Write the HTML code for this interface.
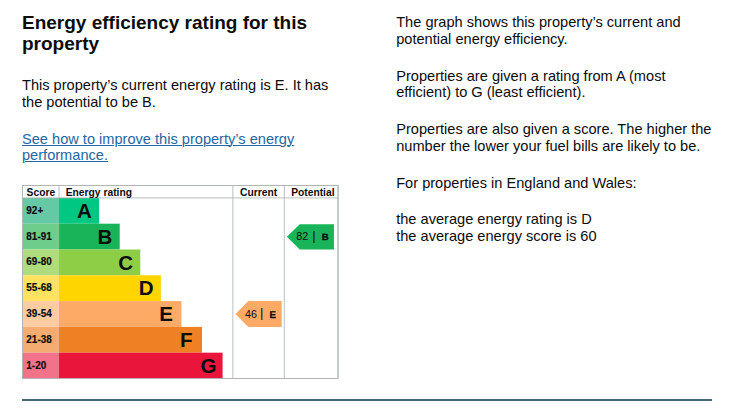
<!DOCTYPE html>
<html lang="en">
<head>
<meta charset="utf-8">
<title>Energy efficiency rating for this property</title>
<style>
html,body{margin:0;padding:0;background:#fff;}
body{width:729px;height:418px;position:relative;overflow:hidden;font-family:"Liberation Sans",Arial,sans-serif;color:#0b0c0c;}
.a{position:absolute;white-space:nowrap;margin:0;}
h2.a{font-weight:700;font-size:19px;line-height:20px;}
p.a{font-size:14.6px;line-height:16.9px;font-weight:400;}
a.lnk{color:#2467a2;text-decoration:underline;text-underline-offset:1px;text-decoration-thickness:1px;}
#graph{position:absolute;left:22px;top:185px;width:316.3px;height:194px;}
#graph text{font-family:"Liberation Sans",Arial,sans-serif;fill:#0b0c0c;}
#graph text.sc{stroke:#0b0c0c;stroke-width:0.35px;transform-box:fill-box;transform-origin:0 100%;transform:scaleY(1.06);}
.hr{position:absolute;left:22px;top:399px;width:690px;height:2px;background:#456b7e;}
</style>
</head>
<body>
<h2 class="a" style="left:22px;top:13.0px;line-height:20.5px;">Energy efficiency rating for this<br>property</h2>
<p class="a" style="left:22px;top:77.3px;">This property’s current energy rating is E. It has<br>the potential to be B.</p>
<p class="a" style="left:22px;top:130.5px;line-height:16px;"><a class="lnk" href="#">See how to improve this property’s energy<br>performance.</a></p>

<svg id="graph" viewBox="0 0 615 376" preserveAspectRatio="none">
  <rect x="0" y="25" width="72" height="50" fill="#64c9a4"/>
  <rect x="72" y="25" width="78" height="50" fill="#00c781"/>
  <rect x="0" y="75" width="72" height="50" fill="#6fcd8c"/>
  <rect x="72" y="75" width="118" height="50" fill="#19b459"/>
  <rect x="0" y="125" width="72" height="50" fill="#afdc7c"/>
  <rect x="72" y="125" width="158" height="50" fill="#8dce46"/>
  <rect x="0" y="175" width="72" height="50" fill="#ffe260"/>
  <rect x="72" y="175" width="198" height="50" fill="#ffd500"/>
  <rect x="0" y="225" width="72" height="50" fill="#fdcca3"/>
  <rect x="72" y="225" width="238" height="50" fill="#fcaa65"/>
  <rect x="0" y="275" width="72" height="50" fill="#f5ac70"/>
  <rect x="72" y="275" width="278" height="50" fill="#ef8023"/>
  <rect x="0" y="325" width="72" height="51" fill="#f27389"/>
  <rect x="72" y="325" width="318" height="51" fill="#e9153b"/>

  <rect x="0" y="0" width="615" height="376" fill="none" stroke="#b1b4b6" stroke-width="3.8"/>
  <line x1="72" y1="0" x2="72" y2="25" stroke="#b1b4b6" stroke-width="1.7"/>
  <line x1="410" y1="0" x2="410" y2="376" stroke="#b1b4b6" stroke-width="1.7"/>
  <line x1="510" y1="0" x2="510" y2="376" stroke="#b1b4b6" stroke-width="1.7"/>
  <line x1="0" y1="25" x2="615" y2="25" stroke="#b1b4b6" stroke-width="1.7"/>

  <g font-size="19" font-weight="700">
    <text x="9" y="21" font-size="20">Score</text>
    <text x="85" y="21" font-size="20">Energy rating</text>
    <text x="460" y="21" font-size="20" text-anchor="middle">Current</text>
    <text x="565.5" y="21" font-size="20" text-anchor="middle">Potential</text>
    <text x="8.5" y="56" font-size="19.3" class="sc">92+</text>
    <text x="8.5" y="106" font-size="19.3" class="sc">81-91</text>
    <text x="8.5" y="156" font-size="19.3" class="sc">69-80</text>
    <text x="8.5" y="206" font-size="19.3" class="sc">55-68</text>
    <text x="8.5" y="256" font-size="19.3" class="sc">39-54</text>
    <text x="8.5" y="306" font-size="19.3" class="sc">21-38</text>
    <text x="8.5" y="356" font-size="19.3" class="sc">1-20</text>
  </g>
  <g font-size="40" font-weight="700">
    <text x="107" y="64">A</text>
    <text x="147" y="114">B</text>
    <text x="187" y="164">C</text>
    <text x="227" y="214">D</text>
    <text x="267" y="264">E</text>
    <text x="307" y="314">F</text>
    <text x="347" y="364">G</text>
  </g>
  <g transform="translate(415,225)">
    <polygon points="0,25 25,50 90,50 90,0 25,0" fill="#fcaa65"/>
    <text x="18.5" y="32.4" font-size="21">46</text>
    <text x="48" y="31.4" font-size="25">|</text>
    <text x="66" y="32.6" style="text-rendering:geometricPrecision" font-size="19" font-weight="700" stroke="#0b0c0c" stroke-width="0.5">E</text>
  </g>
  <g transform="translate(515,75)">
    <polygon points="0,25.5 25,50 91.5,50 91.5,1 25,1" fill="#19b459"/>
    <text x="18.5" y="31" font-size="21">82</text>
    <text x="49.5" y="32.2" font-size="25">|</text>
    <text x="68" y="31.6" style="text-rendering:geometricPrecision" font-size="17.5" font-weight="700" stroke="#0b0c0c" stroke-width="0.5" transform="translate(68 0) scale(1.08 1) translate(-68 0)">B</text>
  </g>
</svg>

<p class="a" style="left:396.2px;top:14.2px;">The graph shows this property’s current and<br>potential energy efficiency.</p>
<p class="a" style="left:396.2px;top:68px;line-height:16.2px;">Properties are given a rating from A (most<br>efficient) to G (least efficient).</p>
<p class="a" style="left:396.2px;top:121px;">Properties are also given a score. The higher the<br>number the lower your fuel bills are likely to be.</p>
<p class="a" style="left:396.2px;top:175.2px;">For properties in England and Wales:</p>
<p class="a" style="left:396.2px;top:211.2px;">the average energy rating is D<br>the average energy score is 60</p>

<div class="hr"></div>
<div style="position:absolute;left:338px;top:185px;width:1px;height:194px;background:#b1b4b6;opacity:0.75;"></div>
</body>
</html>
